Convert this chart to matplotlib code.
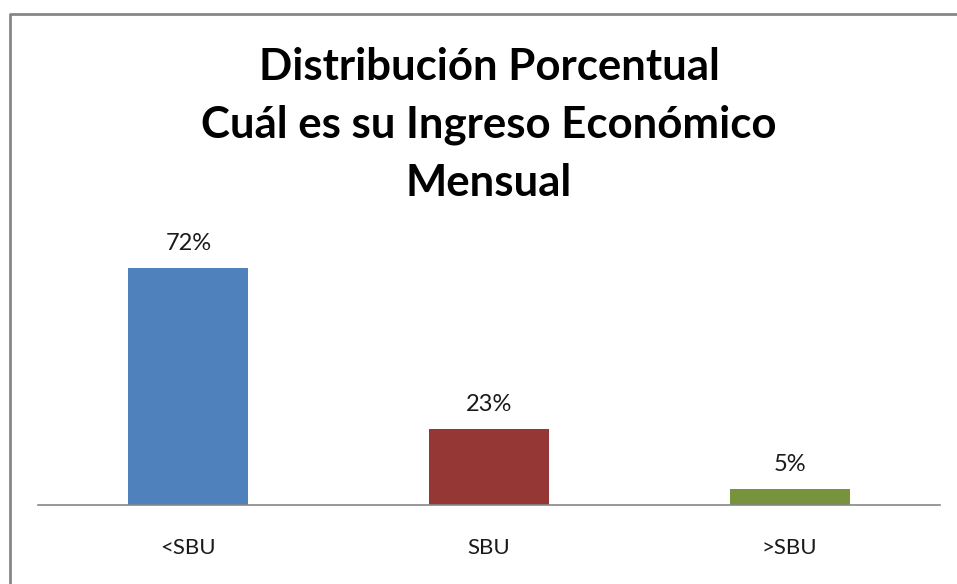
import matplotlib
matplotlib.use("Agg")
import matplotlib.pyplot as plt
from matplotlib.lines import Line2D

categories = ["<SBU", "SBU", ">SBU"]
values = [72, 23, 5]
bar_colors = ["#4F81BD", "#953735", "#77933C"]
title = "Distribución Porcentual\nCuál es su Ingreso Económico\nMensual"

W, H, DPI = 957, 584, 100
fig = plt.figure(figsize=(W / DPI, H / DPI), dpi=DPI)
fig.patch.set_facecolor("white")

# outer frame of the chart area: only top and left edges are in the picture
fl, ft = 9.5 / W, 1 - 13.5 / H
fig.lines.append(Line2D([fl, fl, 1.05], [-0.05, ft, ft], transform=fig.transFigure,
                        color="#868686", linewidth=2))

# axes placed in pixels: baseline at y=505, x from 38 to 940
ax_left, ax_right, ax_bottom, ax_top = 38, 940, 505, 230
ax = fig.add_axes([ax_left / W, 1 - ax_bottom / H, (ax_right - ax_left) / W,
                   (ax_bottom - ax_top) / H])
px_per_unit = 237 / 72
ax.set_ylim(0, (ax_bottom - ax_top) / px_per_unit)
ax.set_xlim(-0.5, len(categories) - 0.5)

x = range(len(categories))
bars = ax.bar(x, values, width=0.4, color=bar_colors)
for b, v in zip(bars, values):
    ax.annotate(f"{v}%", (b.get_x() + b.get_width() / 2, v), xytext=(0, 10),
                textcoords="offset points", ha="center", va="bottom",
                fontsize=17, family="Lato", color="#1a1a1a")

ax.set_xticks(list(x))
ax.set_xticklabels(categories, fontsize=16, family="Lato", color="#1a1a1a")
ax.tick_params(axis="x", length=0, pad=24)
ax.set_yticks([])
for s in ["top", "left", "right"]:
    ax.spines[s].set_visible(False)
ax.spines["bottom"].set_color("#868686")
ax.spines["bottom"].set_linewidth(1.2)

fig.text(489 / W, 1 - 125 / H, title, ha="center", va="center", fontsize=31.5,
         fontweight="bold", family="Lato", linespacing=1.54, color="black")

fig.savefig("out.png", dpi=DPI)
